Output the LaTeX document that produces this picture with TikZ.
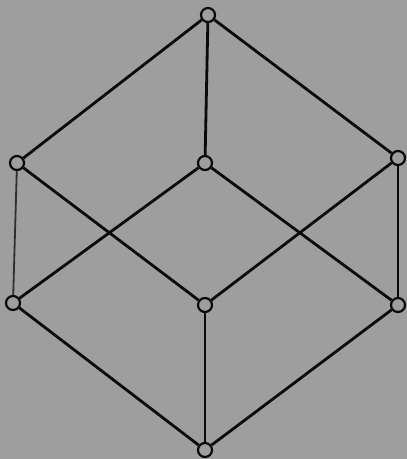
\documentclass[tikz,border=0pt]{standalone}
\definecolor{bg}{RGB}{158,158,158}
\definecolor{ink}{RGB}{10,10,10}
\tikzset{
  vtx/.style={circle,draw=ink,line width=2.2pt,fill=bg,minimum size=14pt,inner sep=0pt},
  edge/.style={draw=ink,line width=2.8pt},
  faint/.style={draw=ink!85,line width=1.8pt}
}
\begin{document}
\begin{tikzpicture}[x=1pt,y=-1pt]
\fill[bg] (0,0) rectangle (407,459);
\useasboundingbox (0,0) rectangle (407,459);
\node[vtx] (top) at (208,15) {};
\node[vtx] (lu) at (17,163) {};
\node[vtx] (cu) at (205,163) {};
\node[vtx] (ru) at (398,158) {};
\node[vtx] (ll) at (13,303) {};
\node[vtx] (cl) at (205,305) {};
\node[vtx] (rl) at (398,305) {};
\node[vtx] (bot) at (205,450) {};
\path[edge] (top) -- (lu);
\path[edge] (top) -- (cu);
\path[edge] (top) -- (ru);
\path[faint] (lu) -- (ll);
\path[edge] (lu) -- (cl);
\path[edge] (cu) -- (ll);
\path[edge] (cu) -- (rl);
\path[edge] (ru) -- (cl);
\path[edge] (ru) -- (rl);
\path[edge] (ll) -- (bot);
\path[edge] (cl) -- (bot);
\path[edge] (rl) -- (bot);
\end{tikzpicture}
\end{document}
